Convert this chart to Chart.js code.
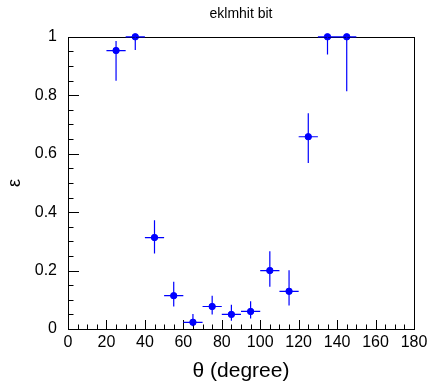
<!DOCTYPE html>
<html lang="en">
<head>
  <meta charset="UTF-8">
  <title>eklmhit bit</title>
  <script src="https://cdn.jsdelivr.net/npm/chart.js"></script>
  <style>
    html, body { margin: 0; padding: 0; background: #fff; }
    #wrap { width: 431px; height: 384px; }
  </style>
</head>
<body>
  <div id="wrap"><canvas id="effChart" width="431" height="384"></canvas></div>

  <script>
    // efficiency vs theta, bins of 10 degrees
    const theta = [25, 35, 45, 55, 65, 75, 85, 95, 105, 115, 125, 135, 145];
    const thetaErr = [5, 5, 5, 5, 5, 5, 5, 5, 5, 5, 5, 5, 5];
    const eff = [0.953, 1.0, 0.313, 0.114, 0.023, 0.077, 0.050, 0.060, 0.200, 0.129, 0.658, 1.0, 1.0];
    const effErrUp = [0.033, 0.0, 0.059, 0.048, 0.028, 0.037, 0.033, 0.035, 0.066, 0.072, 0.080, 0.0, 0.0];
    const effErrDown = [0.103, 0.045, 0.055, 0.037, 0.014, 0.027, 0.022, 0.024, 0.055, 0.049, 0.090, 0.061, 0.186];

    const xTickLabels = ['0', '20', '40', '60', '80', '100', '120', '140', '160', '180'];
    const yTickLabels = ['0', '0.2', '0.4', '0.6', '0.8', '1'];

    const points = theta.map((t, i) => ({ x: t, y: eff[i] }));

    // error bars, inward ROOT-style ticks and the frame
    const rootStyle = {
      id: 'rootStyle',
      afterDatasetsDraw(chart) {
        const ctx = chart.ctx;
        const xs = chart.scales.x, ys = chart.scales.y;
        const a = chart.chartArea;

        ctx.save();
        // frame
        ctx.strokeStyle = '#000';
        ctx.lineWidth = 1;
        ctx.strokeRect(Math.round(a.left) + 0.5, Math.round(a.top) + 0.5,
          Math.round(a.right - a.left), Math.round(a.bottom - a.top));

        // x ticks: major 20, minor 5
        ctx.beginPath();
        for (let v = 0; v <= 180; v += 5) {
          const px = Math.round(xs.getPixelForValue(v)) + 0.5;
          const len = v % 20 === 0 ? 9 : 4.5;
          ctx.moveTo(px, a.bottom);
          ctx.lineTo(px, a.bottom - len);
        }
        // y ticks: major 0.2, minor 0.05
        for (let k = 0; k <= 20; k++) {
          const py = Math.round(ys.getPixelForValue(k * 0.05)) + 0.5;
          const len = k % 4 === 0 ? 11 : 5.5;
          ctx.moveTo(a.left, py);
          ctx.lineTo(a.left + len, py);
        }
        ctx.stroke();

        // error bars
        ctx.strokeStyle = '#0000ff';
        ctx.lineWidth = 1.2;
        ctx.beginPath();
        theta.forEach((t, i) => {
          const px = xs.getPixelForValue(t);
          const py = ys.getPixelForValue(eff[i]);
          ctx.moveTo(xs.getPixelForValue(t - thetaErr[i]), py);
          ctx.lineTo(xs.getPixelForValue(t + thetaErr[i]), py);
          ctx.moveTo(px, ys.getPixelForValue(eff[i] + effErrUp[i]));
          ctx.lineTo(px, ys.getPixelForValue(eff[i] - effErrDown[i]));
        });
        ctx.stroke();
        ctx.restore();
      }
    };

    const ctx = document.getElementById('effChart').getContext('2d');
    new Chart(ctx, {
      type: 'scatter',
      data: {
        datasets: [{
          data: points,
          backgroundColor: '#0000ff',
          borderColor: '#0000ff',
          pointRadius: 3.2,
          pointHoverRadius: 3.2,
          clip: false
        }]
      },
      options: {
        responsive: false,
        animation: false,
        layout: { padding: { left: 0, right: 17, top: 1, bottom: 0 } },
        plugins: {
          legend: { display: false },
          tooltip: { enabled: false },
          title: {
            display: true,
            text: 'eklmhit bit',
            fullSize: false,
            color: '#000',
            font: { family: 'Liberation Sans', size: 14, weight: 'normal' },
            padding: { top: 5, bottom: 14 }
          }
        },
        scales: {
          x: {
            type: 'linear',
            min: 0,
            max: 180,
            grid: { display: false },
            border: { display: false },
            ticks: {
              stepSize: 20,
              padding: -4,
              maxRotation: 0,
              color: '#000',
              font: { family: 'Liberation Sans', size: 16 },
              callback: (v) => xTickLabels[v / 20]
            },
            title: {
              display: true,
              text: 'θ (degree)',
              color: '#000',
              font: { family: 'Liberation Sans', size: 21 },
              padding: { top: 0, bottom: 0 }
            },
            afterFit: (s) => { s.height = 55; }
          },
          y: {
            type: 'linear',
            min: 0,
            max: 1,
            grid: { display: false },
            border: { display: false },
            ticks: {
              stepSize: 0.2,
              padding: 3,
              color: '#000',
              font: { family: 'Liberation Sans', size: 16 },
              callback: (v) => yTickLabels[Math.round(v * 5)]
            },
            title: {
              display: true,
              text: 'ε',
              color: '#000',
              font: { family: 'Liberation Sans', size: 18 },
              padding: { top: 4, bottom: 0 }
            },
            afterFit: (s) => { s.width = 68; }
          }
        }
      },
      plugins: [rootStyle]
    });
  </script>
</body>
</html>
